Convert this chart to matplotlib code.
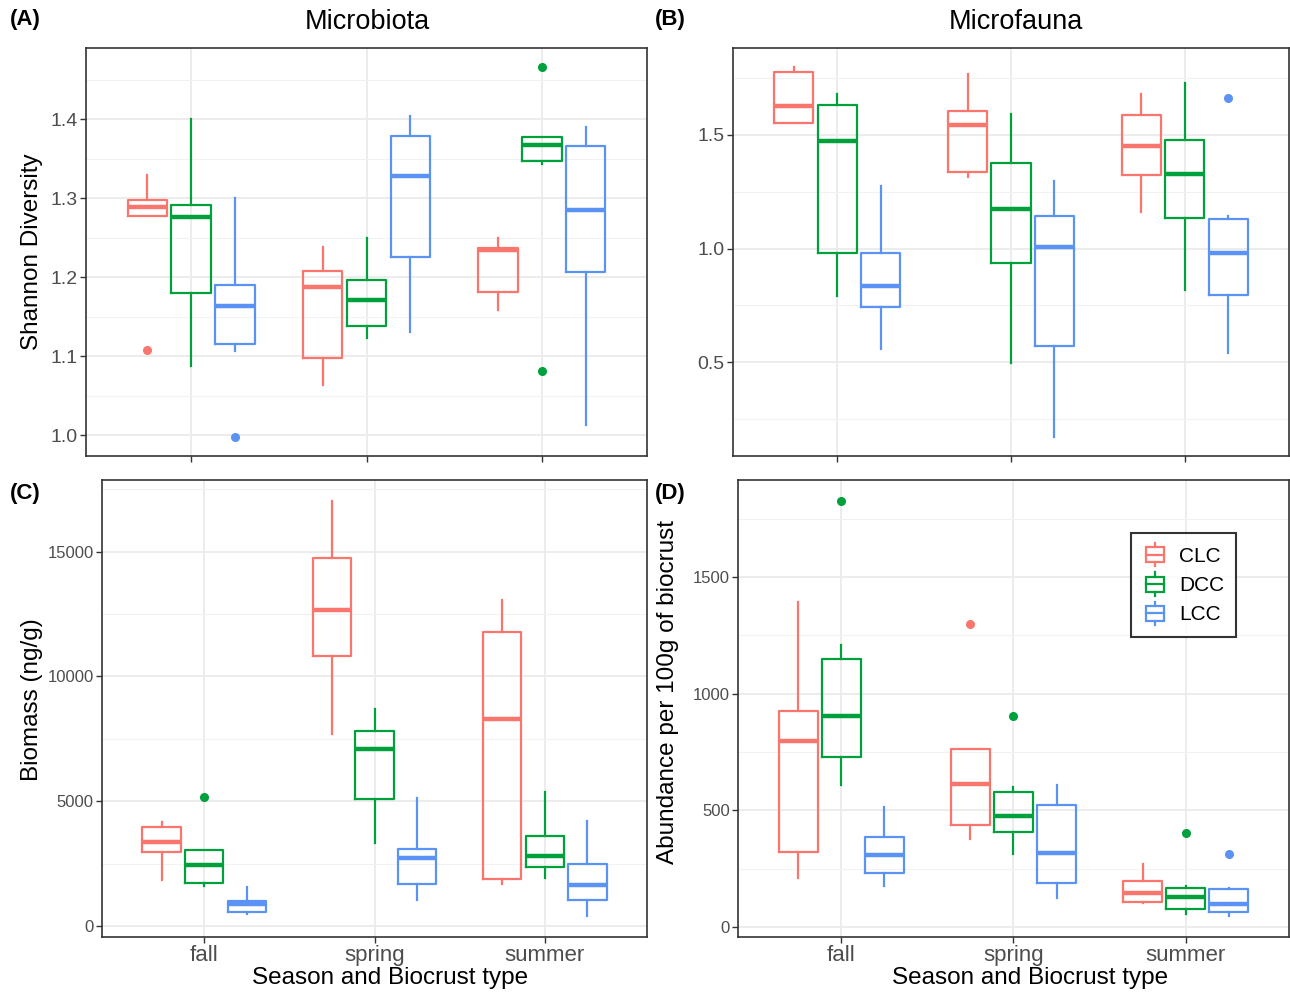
import numpy as np
import matplotlib
matplotlib.use('Agg')
import matplotlib.pyplot as plt
from matplotlib.patches import Rectangle
from matplotlib.lines import Line2D
from matplotlib.legend_handler import HandlerBase
from matplotlib.ticker import MultipleLocator, FormatStrFormatter

plt.rcParams['font.family'] = ['Liberation Sans', 'DejaVu Sans']

seasons = ['fall', 'spring', 'summer']
crust_types = ['CLC', 'DCC', 'LCC']
colores = {'CLC': '#F8766D', 'DCC': '#00A03C', 'LCC': '#5B93F5'}

# estadisticos por estacion: [bigote_inf, q1, mediana, q3, bigote_sup]
shannon_clc = [[1.277, 1.277, 1.289, 1.298, 1.329], [1.064, 1.098, 1.188, 1.208, 1.238], [1.158, 1.181, 1.234, 1.237, 1.250]]
shannon_dcc = [[1.087, 1.180, 1.276, 1.292, 1.400], [1.123, 1.138, 1.171, 1.196, 1.250], [1.344, 1.347, 1.367, 1.378, 1.378]]
shannon_lcc = [[1.107, 1.115, 1.163, 1.190, 1.300], [1.131, 1.226, 1.328, 1.379, 1.404], [1.013, 1.207, 1.285, 1.366, 1.390]]
shannon_out = [(0, 'CLC', 1.108), (0, 'LCC', 0.997), (2, 'DCC', 1.467), (2, 'DCC', 1.081)]

fauna_clc = [[1.551, 1.551, 1.625, 1.775, 1.800], [1.315, 1.336, 1.541, 1.605, 1.768], [1.161, 1.322, 1.452, 1.587, 1.679]]
fauna_dcc = [[0.793, 0.979, 1.474, 1.632, 1.678], [0.497, 0.935, 1.175, 1.378, 1.593], [0.817, 1.135, 1.328, 1.475, 1.729]]
fauna_lcc = [[0.560, 0.742, 0.836, 0.980, 1.273], [0.170, 0.574, 1.007, 1.143, 1.295], [0.541, 0.794, 0.979, 1.129, 1.142]]
fauna_out = [(2, 'LCC', 1.662)]

biomasa_clc = [[1834, 2945, 3347, 3949, 4177], [7698, 10803, 12677, 14739, 17042], [1673, 1888, 8313, 11794, 13079]]
biomasa_dcc = [[1606, 1700, 2450, 3039, 3039], [3307, 5087, 7082, 7818, 8702], [1914, 2343, 2798, 3601, 5355]]
biomasa_lcc = [[469, 562, 870, 1004, 1566], [1044, 1660, 2718, 3092, 5127], [388, 1031, 1633, 2477, 4190]]
biomasa_out = [(0, 'DCC', 5154)]

abund_clc = [[208, 322, 796, 927, 1393], [376, 438, 613, 763, 763], [103, 109, 146, 199, 271]]
abund_dcc = [[608, 727, 906, 1149, 1207], [312, 405, 477, 580, 598], [57, 79, 129, 167, 175]]
abund_lcc = [[176, 233, 309, 386, 512], [122, 189, 319, 524, 608], [46, 62, 100, 162, 169]]
abund_out = [(0, 'DCC', 1826), (1, 'CLC', 1297), (1, 'DCC', 902), (2, 'DCC', 402), (2, 'LCC', 311)]

W, H = 1290, 994
fig = plt.figure(figsize=(W / 100, H / 100), dpi=100)


def caja(px):
    # px = (izq, arriba, der, abajo) en pixeles
    l, t, r, b = px
    return fig.add_axes([l / W, 1 - b / H, (r - l) / W, (b - t) / H])


def dibujar(ax, por_tipo, outliers, ylim, paso, fs_tick, xlabels):
    for k, tipo in enumerate(crust_types):
        stats = []
        for s in range(3):
            lo, q1, med, q3, hi = por_tipo[tipo][s]
            fl = [v for (si, tt, v) in outliers if si == s and tt == tipo]
            stats.append(dict(whislo=lo, q1=q1, med=med, q3=q3, whishi=hi, fliers=fl))
        pos = np.arange(1, 4) + (k - 1) * 0.25
        c = colores[tipo]
        ax.bxp(stats, positions=pos, widths=0.225, showcaps=False, patch_artist=False,
               boxprops=dict(color=c, lw=1.6),
               whiskerprops=dict(color=c, lw=1.6),
               medianprops=dict(color=c, lw=3.2, solid_capstyle='butt'),
               flierprops=dict(marker='o', markerfacecolor=c, markeredgecolor=c, markersize=5.5),
               manage_ticks=False, zorder=3)
    ax.set_xlim(0.4, 3.6)
    ax.set_ylim(*ylim)
    ax.yaxis.set_major_locator(MultipleLocator(paso))
    ax.yaxis.set_minor_locator(MultipleLocator(paso / 2))
    ax.set_xticks([1, 2, 3])
    ax.set_xticklabels(seasons if xlabels else [])
    ax.grid(True, which='major', color='#EBEBEB', lw=1.3, zorder=0)
    ax.grid(True, which='minor', axis='y', color='#F2F2F2', lw=0.8, zorder=0)
    ax.set_axisbelow(True)
    ax.tick_params(which='major', length=4, width=1, color='#333333', labelcolor='#4D4D4D',
                   labelsize=fs_tick, pad=2)
    ax.tick_params(which='minor', length=0)
    ax.tick_params(axis='x', labelsize=16, labelcolor='#4D4D4D')
    for sp in ax.spines.values():
        sp.set_color('#333333')
        sp.set_linewidth(1.2)


axA = caja((86, 48, 647, 456))
dibujar(axA, {'CLC': shannon_clc, 'DCC': shannon_dcc, 'LCC': shannon_lcc}, shannon_out,
        (0.9735, 1.4905), 0.1, 14, False)
axA.yaxis.set_major_formatter(FormatStrFormatter('%.1f'))

axB = caja((733, 48, 1289, 456))
dibujar(axB, {'CLC': fauna_clc, 'DCC': fauna_dcc, 'LCC': fauna_lcc}, fauna_out,
        (0.0885, 1.8815), 0.5, 14, False)
axB.yaxis.set_major_formatter(FormatStrFormatter('%.1f'))

axC = caja((102, 480, 647, 937))
dibujar(axC, {'CLC': biomasa_clc, 'DCC': biomasa_dcc, 'LCC': biomasa_lcc}, biomasa_out,
        (-445, 17875), 5000, 12, True)

axD = caja((738, 480, 1289, 937))
dibujar(axD, {'CLC': abund_clc, 'DCC': abund_dcc, 'LCC': abund_lcc}, abund_out,
        (-43, 1915), 500, 12, True)


class HandlerCaja(HandlerBase):
    def create_artists(self, legend, orig_handle, xdescent, ydescent, width, height, fontsize, trans):
        c = orig_handle.get_color()
        cx = -xdescent + width / 2
        cy = -ydescent + height / 2
        bw, bh = width * 0.8, height * 0.8
        rect = Rectangle((cx - bw / 2, cy - bh / 2), bw, bh, facecolor='white', edgecolor=c, lw=1.6, transform=trans)
        med = Line2D([cx - bw / 2, cx + bw / 2], [cy, cy], color=c, lw=1.6, transform=trans)
        w1 = Line2D([cx, cx], [cy + bh / 2, cy + height * 0.62], color=c, lw=1.6, transform=trans)
        w2 = Line2D([cx, cx], [cy - bh / 2, cy - height * 0.62], color=c, lw=1.6, transform=trans)
        return [rect, med, w1, w2]


handles = [Line2D([], [], color=colores[t]) for t in crust_types]
leg = axD.legend(handles, crust_types, handler_map={Line2D: HandlerCaja()},
                 loc='upper left', bbox_to_anchor=(0.713, 0.884), borderaxespad=0,
                 fontsize=15, frameon=True, fancybox=False, handlelength=1.1, handleheight=1.0,
                 handletextpad=0.6, labelspacing=0.42, borderpad=0.6)
leg.get_frame().set_edgecolor('black')
leg.get_frame().set_linewidth(1.5)

# titulos y etiquetas
fig.text(367 / W, 1 - 22 / H, 'Microbiota', ha='center', va='center', fontsize=19.5)
fig.text(1016 / W, 1 - 22 / H, 'Microfauna', ha='center', va='center', fontsize=19.5)
fig.text(10 / W, 1 - 20 / H, '(A)', ha='left', va='center', fontsize=16, fontweight='bold')
fig.text(655 / W, 1 - 20 / H, '(B)', ha='left', va='center', fontsize=16, fontweight='bold')
fig.text(10 / W, 1 - 493 / H, '(C)', ha='left', va='center', fontsize=16, fontweight='bold')
fig.text(655 / W, 1 - 493 / H, '(D)', ha='left', va='center', fontsize=16, fontweight='bold')
fig.text(32 / W, 1 - 252 / H, 'Shannon Diversity', ha='center', va='center', rotation=90, fontsize=17.5)
fig.text(32 / W, 1 - 700 / H, 'Biomass (ng/g)', ha='center', va='center', rotation=90, fontsize=17.5)
fig.text(668 / W, 1 - 692 / H, 'Abundance per 100g of biocrust', ha='center', va='center', rotation=90, fontsize=17.5)
fig.text(390 / W, 1 - 978 / H, 'Season and Biocrust type', ha='center', va='center', fontsize=17.5)
fig.text(1030 / W, 1 - 978 / H, 'Season and Biocrust type', ha='center', va='center', fontsize=17.5)

plt.savefig('out.png', dpi=100)
